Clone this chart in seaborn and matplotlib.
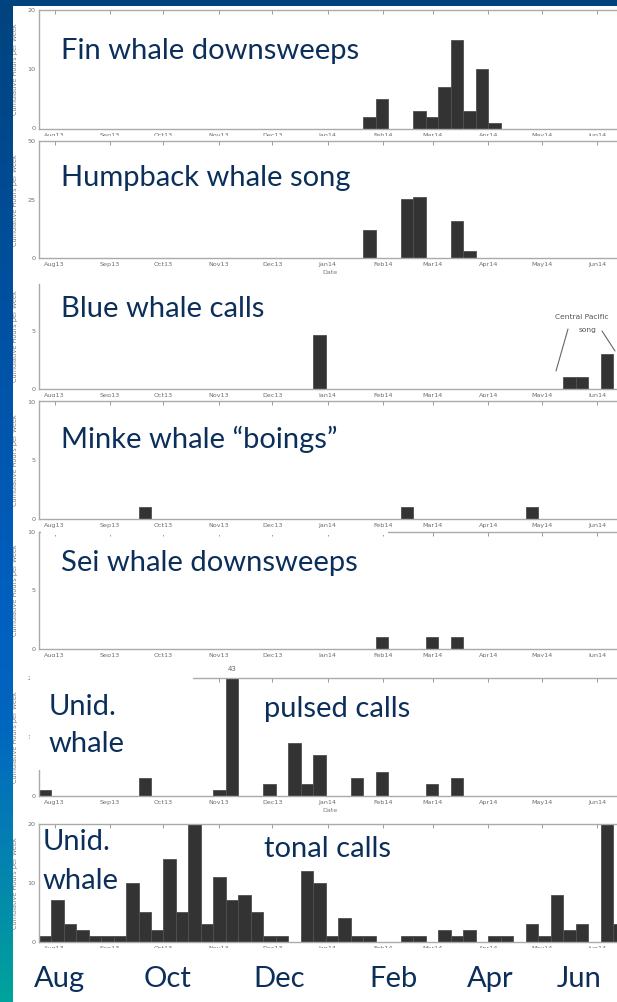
import numpy as np
import pandas as pd
import matplotlib
matplotlib.use("Agg")
import matplotlib.pyplot as plt
import matplotlib.dates as mdates
from matplotlib.patches import Rectangle
from matplotlib.colors import LinearSegmentedColormap
import seaborn as sns

# ---------------------------------------------------------------- data
# Weekly bins of cumulative detection hours, week 0 starts 23 Jul 2013
season_start = "2013-07-23"
n_weeks = 47

fin_weeks = [26, 27, 30, 31, 32, 33, 34, 35, 36]
fin_hours = [2, 5, 3, 2, 7, 15, 3, 10, 1]

humpback_weeks = [26, 29, 30, 33, 34]
humpback_hours = [12, 25.5, 26, 16, 3]

blue_weeks = [22, 42, 43, 45]
blue_hours = [4.6, 1, 1, 3]

minke_weeks = [8, 29, 39]
minke_hours = [1, 1, 1]

sei_weeks = [27, 31, 33]
sei_hours = [1, 1, 1]

pulsed_weeks = [0, 8, 14, 15, 18, 20, 21, 22, 25, 27, 31, 33]
pulsed_hours = [1, 3, 1, 43, 2, 9, 2, 7, 3, 4, 2, 3]

tonal_weeks = list(range(47))
tonal_hours = [1, 7, 3, 2, 1, 1, 1, 10, 5, 2, 14, 5, 20, 3, 11, 7, 8, 5, 1, 1,
               0, 12, 10, 1, 4, 1, 1, 0, 0, 1, 1, 0, 2, 1, 2, 0, 1, 1, 0, 3,
               1, 8, 2, 3, 0, 20, 3]

panel_titles = ["Fin whale downsweeps", "Humpback whale song", "Blue whale calls",
                "Minke whale \u201cboings\u201d", "Sei whale downsweeps",
                "pulsed calls", "tonal calls"]
season_labels = ["Aug", "Oct", "Dec", "Feb", "Apr", "Jun"]

# ---------------------------------------------------------------- layout
W, H, DPI = 617, 1002, 100
NAVY = "#0b2f5a"
BAR = "#333333"
EDGE = "#505050"
GREY = "#7a7a7a"

sns.set_style("white")
plt.rcParams["font.family"] = ["DejaVu Sans"]

fig = plt.figure(figsize=(W / DPI, H / DPI), dpi=DPI)
fig.patch.set_facecolor("white")


def fbox(x0, y0, x1, y1):
    """pixel box (origin top-left) -> figure-fraction rect"""
    return [x0 / W, 1 - y1 / H, (x1 - x0) / W, (y1 - y0) / H]


def fxy(x, y):
    return x / W, 1 - y / H


AX_L, AX_R = 38.6, 621.0
PX_PER_DAY = 12.49 / 7.0

start = mdates.date2num(np.datetime64(season_start))
week_mid = start + 7 * np.arange(n_weeks) + 3.5
x_right = start + (AX_R - AX_L) / PX_PER_DAY

# (weeks, hours, ymax, yticks, axes-top px, axes-bottom px, strip-top, strip-bottom)
panels = [
    (fin_weeks, fin_hours, 20, [0, 10, 20], 10.0, 128.5, 6, 136),
    (humpback_weeks, humpback_hours, 50, [0, 25, 50], 141.5, 258.0, 136, 280),
    (blue_weeks, blue_hours, 9, [0, 5], 284.0, 389.0, 280, 397),
    (minke_weeks, minke_hours, 10, [0, 5, 10], 401.5, 519.0, 397, 528),
    (sei_weeks, sei_hours, 10, [0, 5, 10], 531.5, 649.0, 528, 657),
    (pulsed_weeks, pulsed_hours, 20, [0, 10, 20], 678.0, 796.0, 657, 818),
    (tonal_weeks, tonal_hours, 20, [0, 10, 20], 824.0, 941.5, 818, 1002),
]

axes = []
for i, (wk, hrs, ymax, yt, top, bot, s0, s1) in enumerate(panels):
    z = 10 * (i + 1)
    # white backdrop of this strip hides whatever the strip above left behind
    fig.patches.append(Rectangle(fxy(13, s1), (W - 13) / W, (s1 - s0) / H,
                                 transform=fig.transFigure, facecolor="white",
                                 edgecolor="none", zorder=z + 1))
    ax = fig.add_axes(fbox(AX_L, top, AX_R, bot))
    ax.set_zorder(z + 2)
    weekly = np.zeros(n_weeks)
    weekly[np.asarray(wk)] = hrs
    df = pd.DataFrame({"week_mid": week_mid, "hours": weekly})
    sns.barplot(data=df, x="week_mid", y="hours", native_scale=True, width=1.0,
                color=BAR, saturation=1, edgecolor=EDGE, linewidth=0.6,
                errorbar=None, ax=ax)
    ax.set_xlim(start, x_right)
    ax.set_ylim(0, ymax)
    ax.set_yticks(yt)
    ax.xaxis.set_major_locator(mdates.MonthLocator())
    ax.xaxis.set_major_formatter(mdates.DateFormatter("%b%y"))
    ax.tick_params(direction="in", length=3, width=0.6, color="#8a8a8a",
                   top=True, right=True, labelsize=4.6, labelcolor="#6e6e6e")
    ax.tick_params(axis="x", pad=3.2)
    ax.tick_params(axis="y", pad=2.2)
    for sp in ax.spines.values():
        sp.set_visible(True)
        sp.set_color("#aaaaaa")
        sp.set_linewidth(1.0)
    ax.set_ylabel("Cumulative Hours per Week", fontsize=4.7, color=GREY)
    ax.yaxis.set_label_coords((18 - AX_L) / (AX_R - AX_L), 0.5)
    ax.set_xlabel("Date", fontsize=4.6, color=GREY, labelpad=1.5)
    ax.grid(False)
    axes.append(ax)

# blue-whale panel: top edge lies above its strip
axes[2].spines["top"].set_visible(False)
axes[2].tick_params(top=False)

# value label for the clipped pulsed-call bar
big = int(np.argmax(pulsed_hours))
xb = start + 7 * pulsed_weeks[big] + 3.5
axes[5].annotate(f"{pulsed_hours[big]}", xy=(xb, 1.0), xycoords=axes[5].get_xaxis_transform(),
                 xytext=(0, 4), textcoords="offset points", ha="center", va="bottom",
                 fontsize=5, color="#666666", annotation_clip=False)

# Central Pacific song note
axes[2].text(*fxy(582, 317), "Central Pacific", transform=fig.transFigure,
             ha="center", va="center", fontsize=5.4, color="#555555")
axes[2].text(*fxy(588, 330), "song", transform=fig.transFigure,
             ha="center", va="center", fontsize=5.4, color="#555555")
for (xa, ya), (xb2, yb2) in [((568, 329), (556, 371)), ((602, 331), (615, 351))]:
    axes[2].plot([xa / W, xb2 / W], [1 - ya / H, 1 - yb2 / H], transform=fig.transFigure,
                 color="#666666", lw=0.8, clip_on=False)

# text boxes sitting over parts of the frames
cover = dict(transform=fig.transFigure, facecolor="white", edgecolor="none")
fig.patches.append(Rectangle(fxy(41, 535), (388 - 41) / W, 7 / H, zorder=53, **cover))
fig.patches.append(Rectangle(fxy(30, 770), (193 - 30) / W, (770 - 657) / H, zorder=63, **cover))
fig.patches.append(Rectangle(fxy(13, 1002), (W - 13) / W, (1002 - 948) / H, zorder=100, **cover))

# panel titles
tkw = dict(ha="left", va="baseline", fontsize=21, color=NAVY, family=["Lato", "DejaVu Sans"])
title_pos = [(61, 59, 14), (61, 186, 24), (61, 317, 34), (61, 448, 44), (61, 571, 54),
             (264, 717, 64), (264, 857, 74)]
for txt, (x, y, z) in zip(panel_titles, title_pos):
    fig.text(*fxy(x, y), txt, zorder=z, **tkw)
for (x, y, z) in [(49, 715, 64), (42.5, 850, 74)]:
    fig.text(*fxy(x, y), "Unid.", zorder=z, **tkw)
for (x, y, z) in [(49, 752, 64), (42.5, 889, 74)]:
    fig.text(*fxy(x, y), "whale", zorder=z, **tkw)

# season labels under the last panel
for lab, x in zip(season_labels, [59, 168, 279.5, 393.7, 490, 578.7]):
    fig.text(*fxy(x, 987), lab, zorder=101, **{**tkw, "ha": "center"})

# slide frame: gradient strip on the left, band on top
cmap = LinearSegmentedColormap.from_list(
    "slide", [(0.0, "#00437e"), (0.3, "#0050a0"), (0.6, "#005fbf"),
              (0.72, "#0066c0"), (0.85, "#0580b2"), (1.0, "#00a39b")])
ax_bg = fig.add_axes(fbox(0, 0, 13, H))
ax_bg.imshow(np.linspace(0, 1, 256)[:, None], aspect="auto", cmap=cmap)
ax_bg.set_axis_off()
ax_bg.set_zorder(200)
fig.patches.append(Rectangle(fxy(0, 6), 1, 6 / H, transform=fig.transFigure,
                             facecolor="#00437e", edgecolor="none", zorder=201))

fig.savefig("out.png", dpi=DPI)
